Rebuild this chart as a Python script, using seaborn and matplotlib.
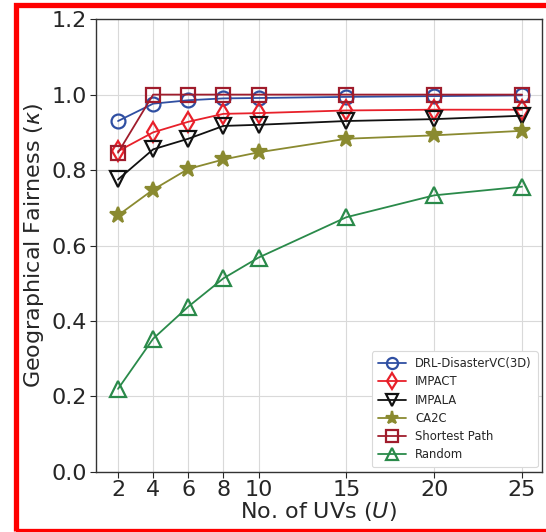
import matplotlib
matplotlib.use("Agg")
import matplotlib.pyplot as plt
import matplotlib.patches as mpatches
import seaborn as sns
import pandas as pd

U = [2, 4, 6, 8, 10, 15, 20, 25]
drl = [0.93, 0.976, 0.985, 0.99, 0.991, 0.994, 0.996, 0.998]
impact = [0.85, 0.90, 0.928, 0.949, 0.951, 0.958, 0.96, 0.96]
impala = [0.775, 0.855, 0.883, 0.917, 0.92, 0.93, 0.935, 0.944]
ca2c = [0.68, 0.748, 0.803, 0.828, 0.847, 0.883, 0.892, 0.904]
shortest = [0.846, 1.0, 1.0, 1.0, 1.0, 1.0, 1.0, 1.0]
rand = [0.22, 0.353, 0.438, 0.513, 0.568, 0.675, 0.733, 0.756]

names = ["DRL-DisasterVC(3D)", "IMPACT", "IMPALA", "CA2C", "Shortest Path", "Random"]
series = [drl, impact, impala, ca2c, shortest, rand]
colors = ["#2f4fa2", "#e8202a", "#111111", "#8a8a30", "#a01c2c", "#2a8a4a"]
markers = ["o", "d", "v", "*", "s", "^"]
filled = [False, False, False, True, False, False]
msizes = [10, 10, 11, 12, 10, 11]

rows = []
for n, s in zip(names, series):
    for u, v in zip(U, s):
        rows.append({"method": n, "U": u, "kappa": v})
df = pd.DataFrame(rows)

sns.set_style("whitegrid", {"axes.edgecolor": "0.2", "grid.color": "0.85",
                            "xtick.bottom": True, "ytick.left": True,
                            "xtick.color": "0.15", "ytick.color": "0.15"})
plt.rcParams["font.family"] = ["DejaVu Sans"]

fig = plt.figure(figsize=(5.46, 5.32), dpi=100)
ax = fig.add_axes([0.175, 0.113, 0.818, 0.851])

for n, c, m, f, ms in zip(names, colors, markers, filled, msizes):
    sub = df[df["method"] == n]
    sns.lineplot(data=sub, x="U", y="kappa", ax=ax, color=c, marker=m,
                 markersize=ms, markerfacecolor=(c if f else "none"),
                 markeredgecolor=c, markeredgewidth=1.6, linewidth=1.3,
                 label=n)

ax.set_xlim(0.72, 26.15)
ax.set_ylim(0, 1.2)
ax.set_xticks(U)
ax.set_yticks([0.0, 0.2, 0.4, 0.6, 0.8, 1.0, 1.2])
ax.set_yticklabels(["0.0", "0.2", "0.4", "0.6", "0.8", "1.0", "1.2"])
ax.tick_params(axis="both", labelsize=16, length=4, width=0.8, pad=2)
ax.set_xlabel("No. of UVs ($U$)", fontsize=16, labelpad=0)
ax.set_ylabel("Geographical Fairness ($\\kappa$)", fontsize=16, labelpad=4)
for sp in ax.spines.values():
    sp.set_linewidth(1.0)

leg = ax.legend(loc="lower right", fontsize=8.4, frameon=True,
                handlelength=2.4, handletextpad=0.8, borderpad=0.5,
                labelspacing=0.45, borderaxespad=0.4, framealpha=1.0,
                markerscale=0.8)
leg.get_frame().set_edgecolor("0.85")
leg.get_frame().set_linewidth(0.8)

# red frame around the figure (its right side lies outside the picture)
W, H = 546.0, 532.0
rect = mpatches.Rectangle((15.5 / W, 1.5 / H), 1.2, (527.0 - 1.5) / H,
                          transform=fig.transFigure, fill=False,
                          edgecolor="#ff0000", linewidth=3.8,
                          clip_on=False, zorder=10)
fig.patches.append(rect)

fig.savefig("out.png", dpi=100)
